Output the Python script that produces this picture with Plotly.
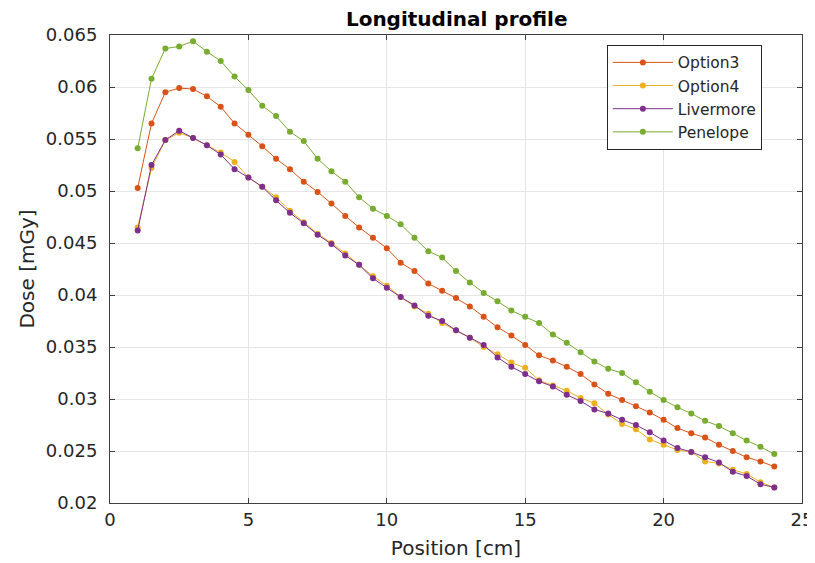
import plotly.graph_objects as go

positions = [1, 1.5, 2, 2.5, 3, 3.5, 4, 4.5, 5, 5.5, 6, 6.5, 7, 7.5, 8, 8.5,
             9, 9.5, 10, 10.5, 11, 11.5, 12, 12.5, 13, 13.5, 14, 14.5, 15, 15.5,
             16, 16.5, 17, 17.5, 18, 18.5, 19, 19.5, 20, 20.5, 21, 21.5, 22, 22.5,
             23, 23.5, 24]

option3 = [0.0503, 0.0565, 0.0595, 0.0599, 0.0598, 0.0591, 0.0581, 0.0565, 0.0554,
           0.0543, 0.0531, 0.0521, 0.0509, 0.0499, 0.0488, 0.0476, 0.0465, 0.0455,
           0.0445, 0.0431, 0.0423, 0.0411, 0.0404, 0.0397, 0.0389, 0.0379, 0.0369,
           0.0361, 0.0352, 0.0342, 0.0337, 0.0331, 0.0324, 0.0314, 0.0305, 0.0299,
           0.0293, 0.0287, 0.0280, 0.0272, 0.0267, 0.0263, 0.0256, 0.0250, 0.0244,
           0.0240, 0.0235]

option4 = [0.0465, 0.0522, 0.0549, 0.0556, 0.0551, 0.0544, 0.0537, 0.0528, 0.0513,
           0.0504, 0.0494, 0.0481, 0.0470, 0.0459, 0.0450, 0.0440, 0.0429, 0.0418,
           0.0409, 0.0398, 0.0389, 0.0382, 0.0373, 0.0366, 0.0359, 0.0350, 0.0343,
           0.0335, 0.0330, 0.0318, 0.0313, 0.0308, 0.0301, 0.0296, 0.0285, 0.0276,
           0.0271, 0.0261, 0.0256, 0.0251, 0.0249, 0.0240, 0.0238, 0.0232, 0.0228,
           0.0220, 0.0215]

livermore = [0.0462, 0.0525, 0.0549, 0.0558, 0.0551, 0.0544, 0.0535, 0.0521, 0.0513,
             0.0504, 0.0491, 0.0479, 0.0469, 0.0458, 0.0449, 0.0438, 0.0429, 0.0416,
             0.0407, 0.0398, 0.0390, 0.0380, 0.0375, 0.0366, 0.0359, 0.0352, 0.0340,
             0.0331, 0.0324, 0.0317, 0.0312, 0.0304, 0.0298, 0.0290, 0.0286, 0.0280,
             0.0275, 0.0268, 0.0260, 0.0253, 0.0249, 0.0244, 0.0239, 0.0230, 0.0226,
             0.0218, 0.0215]

penelope = [0.0541, 0.0608, 0.0637, 0.0639, 0.0644, 0.0634, 0.0625, 0.0610, 0.0597,
            0.0582, 0.0572, 0.0557, 0.0548, 0.0531, 0.0519, 0.0509, 0.0494, 0.0483,
            0.0476, 0.0468, 0.0455, 0.0442, 0.0436, 0.0423, 0.0412, 0.0402, 0.0394,
            0.0385, 0.0379, 0.0373, 0.0362, 0.0354, 0.0345, 0.0336, 0.0329, 0.0325,
            0.0316, 0.0307, 0.0299, 0.0292, 0.0286, 0.0279, 0.0274, 0.0267, 0.0260,
            0.0254, 0.0247]

series_names = ["Option3", "Option4", "Livermore", "Penelope"]
series_colors = ["#D95319", "#EDB120", "#7E2F8E", "#77AC30"]

x_tickvals = [0, 5, 10, 15, 20, 25]
x_ticktext = ["0", "5", "10", "15", "20", "25"]
y_tickvals = [0.02, 0.025, 0.03, 0.035, 0.04, 0.045, 0.05, 0.055, 0.06, 0.065]
y_ticktext = ["0.02", "0.025", "0.03", "0.035", "0.04", "0.045", "0.05", "0.055", "0.06", "0.065"]

fig = go.Figure()
for name, vals, col in zip(series_names, [option3, option4, livermore, penelope], series_colors):
    fig.add_trace(go.Scatter(
        x=positions, y=vals, name=name, mode="lines+markers",
        line=dict(color=col, width=1),
        marker=dict(color=col, size=6),
    ))

axis_col = "#404040"
fig.update_layout(
    width=807, height=555,
    margin=dict(l=102, r=13, t=27, b=60),
    paper_bgcolor="white", plot_bgcolor="white",
    font=dict(family="DejaVu Sans", size=18, color="#262626"),
    title=dict(text="<b>Longitudinal profile</b>", x=0.556, xanchor="center",
               y=0.992, yanchor="top", font=dict(size=20, color="black")),
    showlegend=True,
    legend=dict(x=0.718, y=0.979, xanchor="left", yanchor="top",
                bgcolor="white", bordercolor="#262626", borderwidth=1,
                font=dict(size=15.5, color="#262626"), tracegroupgap=0,
                itemwidth=60),
)
fig.update_xaxes(
    range=[0, 25], tickvals=x_tickvals, ticktext=x_ticktext,
    showgrid=True, gridcolor="#e6e6e6", gridwidth=1, zeroline=False,
    showline=True, linecolor=axis_col, linewidth=1, mirror="ticks",
    ticks="inside", ticklen=5, tickcolor=axis_col, automargin=False,
    title=dict(text="Position [cm]", font=dict(size=20), standoff=12),
)
fig.update_yaxes(
    range=[0.02, 0.065], tickvals=y_tickvals, ticktext=y_ticktext,
    showgrid=True, gridcolor="#e6e6e6", gridwidth=1, zeroline=False,
    showline=True, linecolor=axis_col, linewidth=1, mirror="ticks",
    ticks="inside", ticklen=5, tickcolor=axis_col, automargin=False,
    ticklabelstandoff=8,
    title=dict(text="Dose [mGy]", font=dict(size=20), standoff=5),
)

fig.write_html("out.html")
